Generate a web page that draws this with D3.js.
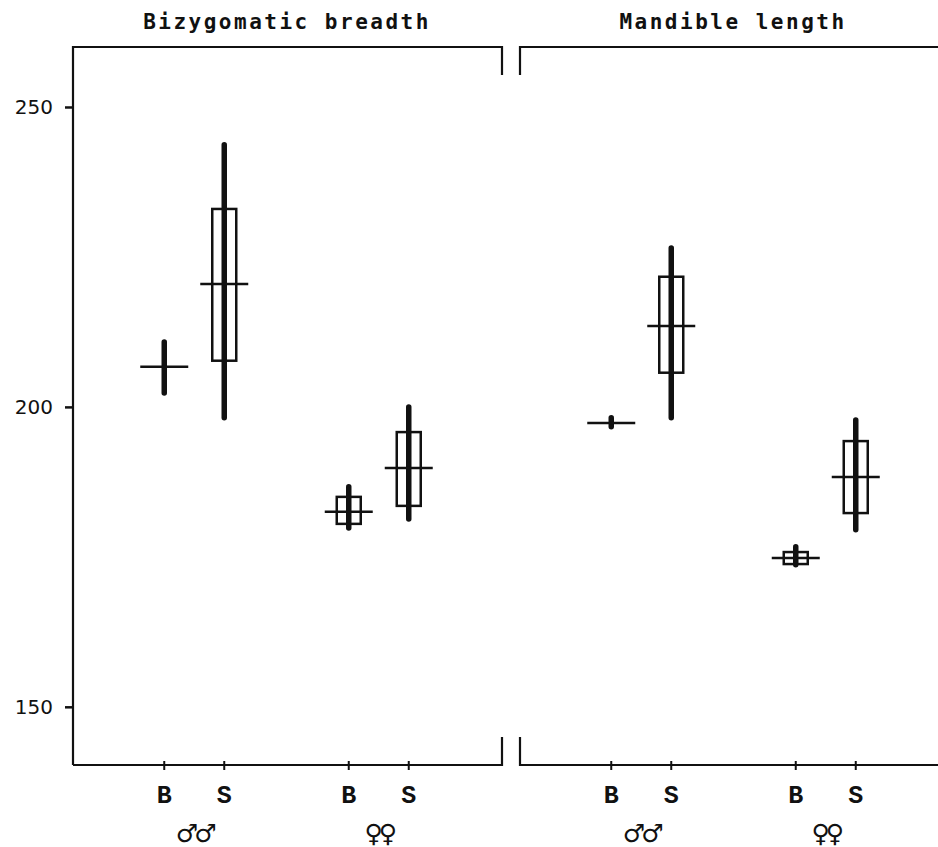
<!DOCTYPE html>
<html><head><meta charset="utf-8">
<script src="https://cdn.jsdelivr.net/npm/d3@7"></script>
<style>
html,body{margin:0;padding:0;background:#fff;}
svg{display:block;}
</style></head>
<body>
<svg id="chart" width="938" height="847"></svg>
<script>
// ---- data ----
const panels = ["Bizygomatic breadth", "Mandible length"];
const sexes = ["♂♂", "♀♀"];
const groups = ["B", "S"];
// order within each array: [panel][sex][group] flattened
const means     = [206.7, 220.5, 182.5, 189.8,   197.3, 213.5, 174.8, 188.3];
const boxLow    = [null,  207.7, 180.5, 183.5,   null,  205.7, 173.8, 182.3];
const boxHigh   = [null,  233.0, 185.0, 195.8,   null,  221.7, 175.8, 194.3];
const rangeLow  = [202.3, 198.2, 179.8, 181.3,   196.7, 198.2, 173.7, 179.5];
const rangeHigh = [210.8, 243.7, 186.7, 200.0,   198.2, 226.5, 176.7, 197.8];
const yTicks = [150, 200, 250];
const yDomain = [140.3, 260];

// ---- layout ----
const svg = d3.select("#chart");
const ink = "#111";
const y = d3.scaleLinear().domain(yDomain).range([765, 47]);
const panelExtent = [[73, 502], [520, 938]];
const panelInner = [[102, 471], [549, 918]];

const rows = [];
panels.forEach((p, pi) => sexes.forEach((s, si) => groups.forEach((g, gi) => {
  const i = pi * 4 + si * 2 + gi;
  rows.push({panel: pi, sex: s, group: g, mean: means[i], bl: boxLow[i], bh: boxHigh[i], rl: rangeLow[i], rh: rangeHigh[i]});
})));

const xOuter = panels.map((p, pi) => d3.scaleBand().domain(sexes).range(panelInner[pi]).padding(0));
const xInner = d3.scalePoint().domain(groups).range([-30, 30]);
const xPos = d => xOuter[d.panel](d.sex) + xOuter[d.panel].bandwidth() / 2 + xInner(d.group);

// frame
const frame = svg.append("g").attr("fill", "none").attr("stroke", ink).attr("stroke-width", 2.2);
const yTop = y(yDomain[1]), yBot = y(yDomain[0]);
frame.append("path").attr("d", `M${panelExtent[0][0]},${yBot}V${yTop}H${panelExtent[0][1]}V${yTop + 28}`);
frame.append("path").attr("d", `M${panelExtent[0][0]},${yBot}H${panelExtent[0][1]}V${yBot - 28}`);
frame.append("path").attr("d", `M${panelExtent[1][1]},${yTop}H${panelExtent[1][0]}V${yTop + 28}`);
frame.append("path").attr("d", `M${panelExtent[1][1]},${yBot}H${panelExtent[1][0]}V${yBot - 28}`);

// y axis
const yAxis = d3.axisLeft(y).tickValues(yTicks).tickSize(8).tickPadding(12).tickFormat(d3.format("d"));
const ya = svg.append("g").attr("transform", `translate(${panelExtent[0][0]},0)`).call(yAxis);
ya.select(".domain").remove();
ya.selectAll(".tick line").attr("stroke", ink).attr("stroke-width", 2.5);
ya.selectAll(".tick text").attr("fill", ink).attr("font-family", "DejaVu Sans").attr("font-size", 20);

// x ticks & labels
const xg = svg.append("g");
xg.selectAll("line.xt").data(rows).join("line").attr("class", "xt")
  .attr("x1", xPos).attr("x2", xPos).attr("y1", yBot - 4).attr("y2", yBot + 5)
  .attr("stroke", ink).attr("stroke-width", 2);
xg.selectAll("text.xl").data(rows).join("text").attr("class", "xl")
  .attr("x", xPos).attr("y", 803).attr("text-anchor", "middle")
  .attr("font-family", "Liberation Mono").attr("font-weight", "bold").attr("font-size", 25)
  .attr("fill", ink).text(d => d.group);
const sexLabels = [];
panels.forEach((p, pi) => sexes.forEach(s => sexLabels.push({panel: pi, sex: s})));
xg.selectAll("text.sx").data(sexLabels).join("text").attr("class", "sx")
  .attr("x", d => xOuter[d.panel](d.sex) + xOuter[d.panel].bandwidth() / 2)
  .attr("y", 842).attr("text-anchor", "middle")
  .attr("font-family", "DejaVu Sans").attr("font-weight", "bold").attr("font-size", 25)
  .attr("letter-spacing", -4)
  .attr("fill", ink).text(d => d.sex);

// titles
svg.selectAll("text.title").data(panels).join("text").attr("class", "title")
  .attr("x", (d, i) => i === 0 ? 287 : 733).attr("y", 29).attr("text-anchor", "middle")
  .attr("font-family", "DejaVu Sans Mono").attr("font-weight", "bold").attr("font-size", 21)
  .attr("letter-spacing", 2.5).attr("fill", ink).text(d => d);

// marks
const marks = svg.append("g");
marks.selectAll("rect.box").data(rows.filter(d => d.bl != null)).join("rect").attr("class", "box")
  .attr("x", d => xPos(d) - 12).attr("width", 24)
  .attr("y", d => y(d.bh)).attr("height", d => y(d.bl) - y(d.bh))
  .attr("fill", "none").attr("stroke", ink).attr("stroke-width", 2.5);
marks.selectAll("line.range").data(rows).join("line").attr("class", "range")
  .attr("x1", xPos).attr("x2", xPos).attr("y1", d => y(d.rh)).attr("y2", d => y(d.rl))
  .attr("stroke", ink).attr("stroke-width", 5.5).attr("stroke-linecap", "round");
marks.selectAll("line.mean").data(rows).join("line").attr("class", "mean")
  .attr("x1", d => xPos(d) - 24).attr("x2", d => xPos(d) + 24)
  .attr("y1", d => y(d.mean)).attr("y2", d => y(d.mean))
  .attr("stroke", ink).attr("stroke-width", 2.5);
</script>
</body></html>
